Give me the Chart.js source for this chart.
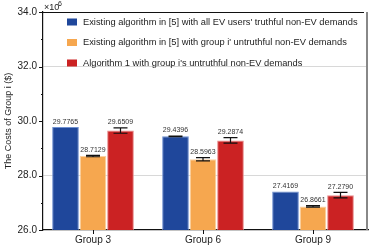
<!DOCTYPE html>
<html>
<head>
<meta charset="utf-8">
<script src="https://cdn.jsdelivr.net/npm/chart.js"></script>
<style>
  html, body { margin: 0; padding: 0; background: #fff; }
  #wrap { width: 370px; height: 247px; }
</style>
</head>
<body>
<div id="wrap"><canvas id="costChart" width="370" height="247"></canvas></div>
<script>
// data (values in units of 10^6 $)
const groups = ['Group 3', 'Group 6', 'Group 9'];
const seriesNames = [
  "Existing algorithm in [5] with all EV users' truthful non-EV demands",
  "Existing algorithm in [5] with group i' untruthful non-EV demands",
  "Algorithm 1 with group i's untruthful non-EV demands"
];
const truthfulCost = [29.7765, 29.4396, 27.4169];
const existingUntruthCost = [28.7129, 28.5963, 26.8661];
const algo1Cost = [29.6509, 29.2874, 27.2790];
const truthfulErr = [0, 0.01, 0];
const existingUntruthErr = [0.025, 0.06, 0.03];
const algo1Err = [0.1, 0.1, 0.1];
const yTicks = [26, 28, 30, 32, 34];

const fills = ['#1f479b', '#f6a74f', '#cb2223'];
const edges = ['#6d8fd0', '#fbd0a0', '#e88a8a'];
const errs = [truthfulErr, existingUntruthErr, algo1Err];

const FONT = "'Liberation Sans', Arial, sans-serif";

const extras = {
  id: 'extras',
  afterDatasetsDraw(chart) {
    const { ctx, chartArea: a, scales: { x, y } } = chart;
    ctx.save();

    // error bars + value labels
    chart.data.datasets.forEach((ds, di) => {
      const meta = chart.getDatasetMeta(di);
      meta.data.forEach((bar, i) => {
        const v = ds.data[i].y, e = errs[di][i];
        const yt = y.getPixelForValue(v + e), yb = y.getPixelForValue(v - e);
        if (e > 0) {
          ctx.strokeStyle = '#111';
          ctx.lineWidth = 1.2;
          ctx.beginPath();
          ctx.moveTo(bar.x, yt); ctx.lineTo(bar.x, yb);
          ctx.moveTo(bar.x - 7, yt); ctx.lineTo(bar.x + 7, yt);
          ctx.moveTo(bar.x - 7, yb); ctx.lineTo(bar.x + 7, yb);
          ctx.stroke();
        }
        ctx.fillStyle = '#333';
        ctx.font = '7px ' + FONT;
        ctx.textAlign = 'center';
        ctx.textBaseline = 'bottom';
        ctx.fillText(v.toFixed(4), bar.x, Math.min(yt, bar.y) - 2);
      });
    });

    // frame: top black, right grey
    ctx.strokeStyle = '#111';
    ctx.lineWidth = 1;
    ctx.beginPath();
    ctx.moveTo(a.left, a.top + 0.5); ctx.lineTo(a.right - 4, a.top + 0.5);
    ctx.stroke();
    ctx.strokeStyle = '#888';
    ctx.lineWidth = 2;
    ctx.beginPath();
    ctx.moveTo(a.right - 1, a.top); ctx.lineTo(a.right - 1, a.bottom);
    ctx.stroke();

    // y ticks (major with labels, minor in between)
    ctx.strokeStyle = '#111';
    ctx.lineWidth = 1;
    ctx.beginPath();
    for (let t = 26; t <= 34; t++) {
      const py = Math.round(y.getPixelForValue(t)) + 0.5;
      const len = t % 2 === 0 ? 4 : 2;
      ctx.moveTo(a.left - len, py); ctx.lineTo(a.left, py);
    }
    // x ticks
    groups.forEach((g, i) => {
      const px = Math.round(x.getPixelForValue(i)) + 0.5;
      ctx.moveTo(px, a.bottom); ctx.lineTo(px, a.bottom + 4);
    });
    ctx.stroke();

    ctx.fillStyle = '#222';
    ctx.font = '10px ' + FONT;
    ctx.textAlign = 'right';
    ctx.textBaseline = 'middle';
    yTicks.forEach(t => ctx.fillText(t.toFixed(1), a.left - 6, y.getPixelForValue(t)));
    ctx.textAlign = 'center';
    ctx.textBaseline = 'top';
    groups.forEach((g, i) => ctx.fillText(g, x.getPixelForValue(i), a.bottom + 5));

    // multiplier
    ctx.textAlign = 'left';
    ctx.textBaseline = 'alphabetic';
    ctx.font = '9px ' + FONT;
    ctx.fillText('\u00d710', a.left + 1, a.top - 2);
    ctx.font = '7px ' + FONT;
    ctx.fillText('6', a.left + 15, a.top - 6);

    // y title
    ctx.save();
    ctx.translate(9, (a.top + a.bottom) / 2);
    ctx.rotate(-Math.PI / 2);
    ctx.font = '9px ' + FONT;
    ctx.textAlign = 'center';
    ctx.textBaseline = 'middle';
    ctx.fillText('The Costs of Group i ($)', 0, 0);
    ctx.restore();

    // legend
    ctx.font = '9.3px ' + FONT;
    ctx.textBaseline = 'middle';
    ctx.textAlign = 'left';
    seriesNames.forEach((name, i) => {
      const ly = 22 + i * 20.5;
      ctx.fillStyle = fills[i];
      ctx.fillRect(67, ly - 3.5, 10, 7);
      ctx.fillStyle = '#222';
      ctx.fillText(name, 83, ly);
    });

    ctx.restore();
  }
};

const mk = (vals) => vals.map((v, i) => ({ x: i, y: v }));

new Chart(document.getElementById('costChart'), {
  type: 'bar',
  data: {
    datasets: [truthfulCost, existingUntruthCost, algo1Cost].map((vals, i) => ({
      label: seriesNames[i],
      data: mk(vals),
      backgroundColor: fills[i],
      borderColor: edges[i],
      borderWidth: 1,
      borderSkipped: 'bottom',
      categoryPercentage: 0.75,
      barPercentage: 0.97
    }))
  },
  options: {
    responsive: false,
    animation: false,
    layout: { padding: { top: 12, right: 2, left: 0, bottom: 0 } },
    plugins: { legend: { display: false }, tooltip: { enabled: false } },
    scales: {
      x: {
        type: 'linear',
        offset: false,
        min: -0.4545,
        max: 2.5,
        afterBuildTicks: (s) => { s.ticks = [{ value: 0 }, { value: 1 }, { value: 2 }]; },
        afterFit: (s) => { s.height = 17; },
        ticks: { display: false },
        grid: { display: false, drawTicks: false, offset: false },
        border: { color: '#111', width: 1.2 }
      },
      y: {
        min: 26,
        max: 34,
        afterBuildTicks: (s) => { s.ticks = yTicks.map(v => ({ value: v })); },
        afterFit: (s) => { s.width = 43; },
        ticks: { display: false },
        grid: {
          drawTicks: false,
          color: (c) => (c.tick && (c.tick.value === 28 || c.tick.value === 32)) ? '#d8d8d8' : 'rgba(0,0,0,0)',
          lineWidth: 1
        },
        border: { color: '#111', width: 1.2, dash: [] }
      }
    }
  },
  plugins: [extras]
});
</script>
</body>
</html>
